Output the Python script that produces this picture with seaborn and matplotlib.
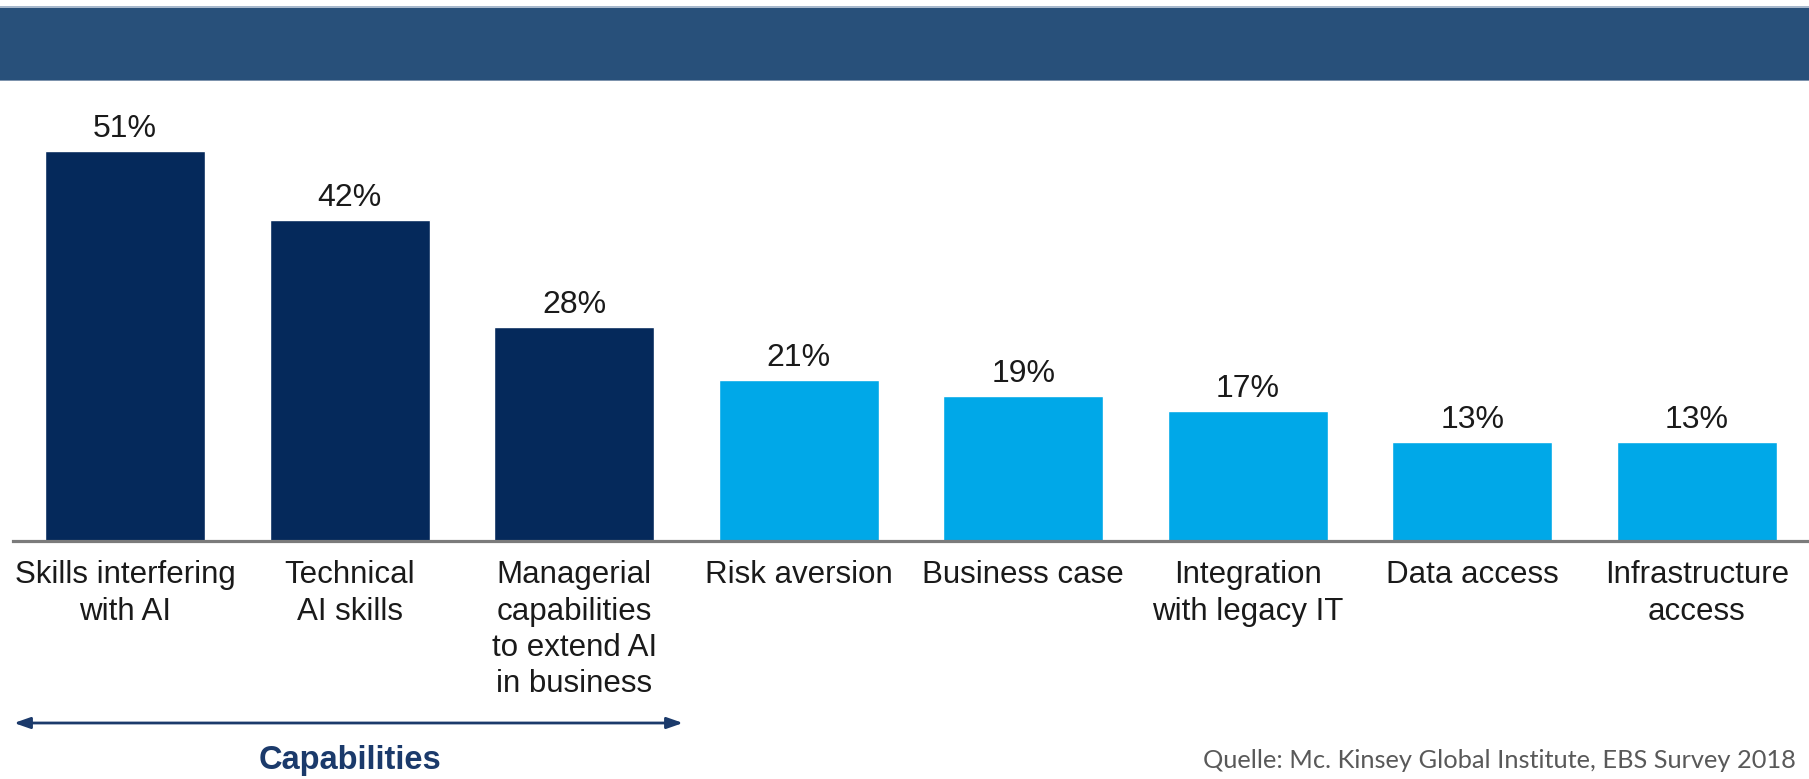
import matplotlib
matplotlib.use("Agg")
import matplotlib.pyplot as plt
from matplotlib.patches import Rectangle
import numpy as np
import pandas as pd
import seaborn as sns

# Barriers to AI adoption, share of respondents
categories = [
    "Skills interfering\nwith AI",
    "Technical\nAI skills",
    "Managerial\ncapabilities\nto extend AI\nin business",
    "Risk aversion",
    "Business case",
    "Integration\nwith legacy IT",
    "Data access",
    "Infrastructure\naccess",
]
shares = [51, 42, 28, 21, 19, 17, 13, 13]
groups = ["Capabilities"] * 3 + ["Other"] * 5

group_label = "Capabilities"
source_note = "Quelle: Mc. Kinsey Global Institute, EBS Survey 2018"

NAVY = "#05295b"
CYAN = "#00a8e8"
TEXT = "#1a1a1a"
BANNER = "#28507a"

W, H = 1809, 779

sns.set_theme(style="white")
plt.rcParams["font.family"] = ["Liberation Sans", "DejaVu Sans"]

fig = plt.figure(figsize=(W / 100, H / 100), dpi=100)
fig.patch.set_facecolor("white")

# header banner
fig.patches.append(Rectangle((0, (H - 81) / H), 1, 75 / H, transform=fig.transFigure,
                             facecolor=BANNER, edgecolor="none", zorder=0))
fig.patches.append(Rectangle((0, (H - 7.5) / H), 1, 1.5 / H, transform=fig.transFigure,
                             facecolor="#a7b8cc", edgecolor="none", zorder=1))
fig.patches.append(Rectangle((0, (H - 81) / H), 1, 1.5 / H, transform=fig.transFigure,
                             facecolor="#7d93ad", edgecolor="none", zorder=1))

# plotting area: baseline at y=541 px, 7.65 px per percentage point
base_px = 541
top_px = 100
ax = fig.add_axes([13 / W, (H - base_px) / H, (W - 13) / W, (base_px - top_px) / H])
ax.set_facecolor("none")

df = pd.DataFrame({"category": categories, "share": shares, "group": groups})
sns.barplot(data=df, x="category", y="share", hue="group",
            palette={"Capabilities": NAVY, "Other": CYAN},
            dodge=False, width=0.713, saturation=1, legend=False, ax=ax)

ax.set_xlim(-0.5, 7.5)
ax.set_ylim(0, (base_px - top_px) / 7.65)

for cont in ax.containers:
    ax.bar_label(cont, labels=[f"{v:.0f}%" for v in cont.datavalues],
                 padding=5, fontsize=23, color=TEXT)

ax.set_xticks(range(len(categories)))
ax.set_xticklabels(categories, fontsize=22.5, color=TEXT, linespacing=1.27)
ax.tick_params(axis="x", length=0, pad=14)
ax.set_yticks([])
ax.set_xlabel("")
ax.set_ylabel("")
for side in ("left", "top", "right"):
    ax.spines[side].set_visible(False)
ax.spines["bottom"].set_color("#7b7b7b")
ax.spines["bottom"].set_linewidth(2.3)

# bracket arrow under the capability group
fig_ax = fig.add_axes([0, 0, 1, 1], facecolor="none")
fig_ax.set_xlim(0, W)
fig_ax.set_ylim(H, 0)
fig_ax.axis("off")
fig_ax.annotate("", xy=(683, 723), xytext=(14, 723), xycoords="data",
                arrowprops=dict(arrowstyle="<|-|>,head_length=0.8,head_width=0.28",
                                color="#1b3a6b", lw=2, shrinkA=0, shrinkB=0))
fig_ax.text(350, 761, group_label, ha="center", va="center", fontsize=23.5,
            fontweight="bold", color="#1b3a6b")
fig_ax.text(1203, 761, source_note, ha="left", va="center", fontsize=18.3,
            color="#595959", fontweight="normal", family=["Lato", "DejaVu Sans"])

fig.savefig("out.png", dpi=100, facecolor="white")
